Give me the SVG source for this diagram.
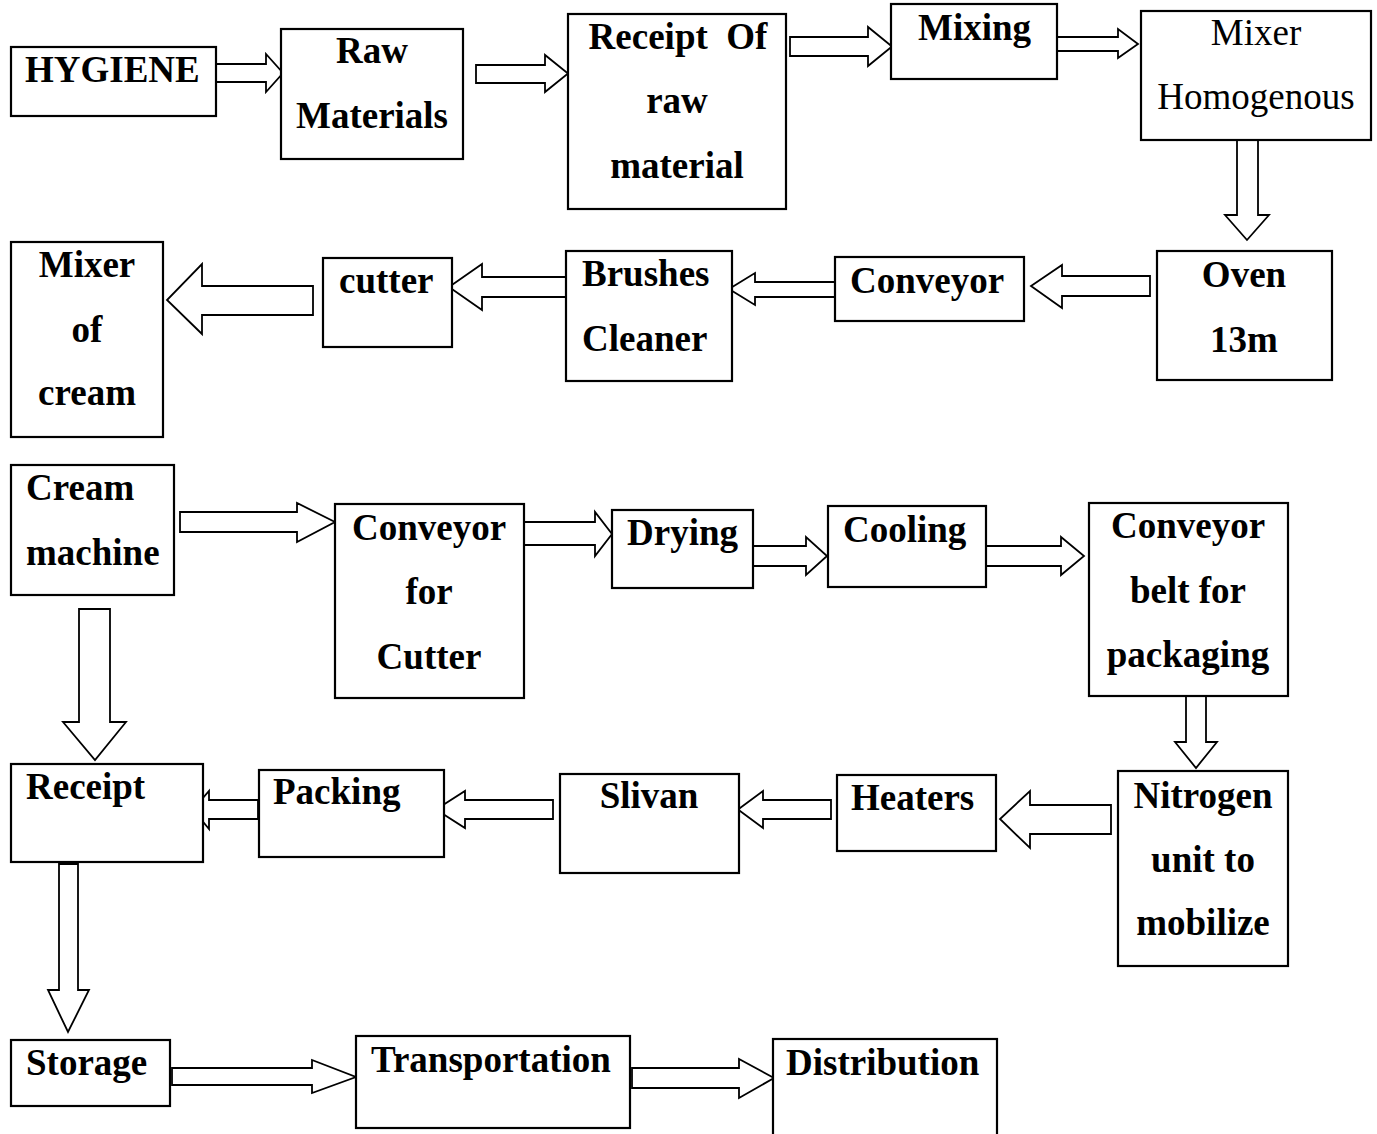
<svg xmlns="http://www.w3.org/2000/svg" width="1377" height="1134" viewBox="0 0 1377 1134">
<style>
.box{fill:#fff;stroke:#000;stroke-width:2.2}
.arr{fill:#fff;stroke:#000;stroke-width:1.8;stroke-linejoin:miter}
text{font-family:"Liberation Serif","Times New Roman",serif;font-size:37px;font-weight:bold;fill:#000;white-space:pre}
.c{text-anchor:middle}
.reg{font-weight:normal}
</style>
<rect width="1377" height="1134" fill="#fff"/>
<g id="connectors">
<path class="arr" d="M213,64 L266,64 L266,54 L283,73 L266,92 L266,82 L213,82 Z"/>
<path class="arr" d="M476,65 L545,65 L545,55 L568,73.5 L545,92 L545,83 L476,83 Z"/>
<path class="arr" d="M790,37 L868,37 L868,27 L892,46.5 L868,66 L868,56 L790,56 Z"/>
<path class="arr" d="M1057,37 L1118,37 L1118,29 L1138,44 L1118,58 L1118,51 L1057,51 Z"/>
<path class="arr" d="M1237,140 L1237,215 L1225,215 L1247,240 L1269,215 L1258,215 L1258,140 Z"/>
<path class="arr" d="M1150,276 L1062,276 L1062,265 L1031,286 L1062,308 L1062,296 L1150,296 Z"/>
<path class="arr" d="M835,282 L755,282 L755,273 L729,289 L755,305 L755,297 L835,297 Z"/>
<path class="arr" d="M567,277 L482,277 L482,264 L449,287 L482,310 L482,297 L567,297 Z"/>
<path class="arr" d="M313,286 L202,286 L202,264 L167,300 L202,334 L202,315 L313,315 Z"/>
<path class="arr" d="M180,512 L297,512 L297,503 L335,522 L297,542 L297,532 L180,532 Z"/>
<path class="arr" d="M521,522 L595,522 L595,512 L612,534 L595,556 L595,545 L521,545 Z"/>
<path class="arr" d="M747,546 L806,546 L806,537 L827,556 L806,575 L806,566 L747,566 Z"/>
<path class="arr" d="M986,546 L1061,546 L1061,537 L1084,556 L1061,575 L1061,566 L986,566 Z"/>
<path class="arr" d="M1186,696 L1186,742 L1175,742 L1196,768 L1217,742 L1206,742 L1206,696 Z"/>
<path class="arr" d="M1111,805 L1030,805 L1030,791 L1000,819 L1030,848 L1030,834 L1111,834 Z"/>
<path class="arr" d="M831,800 L763,800 L763,791 L738,809.5 L763,828 L763,819 L831,819 Z"/>
<path class="arr" d="M553,800 L465,800 L465,791 L436,809.5 L465,828 L465,819 L553,819 Z"/>
<path class="arr" d="M258,800 L209,800 L209,791 L193,809.5 L209,829 L209,819 L258,819 Z"/>
<path class="arr" d="M79,609 L79,722 L63,722 L95,760 L126,722 L110,722 L110,609 Z"/>
<path class="arr" d="M59,864 L59,990 L48,990 L68,1032 L89,990 L78,990 L78,864 Z"/>
<path class="arr" d="M172,1068 L312,1068 L312,1060 L356,1077 L312,1093 L312,1085 L172,1085 Z"/>
<path class="arr" d="M632,1068 L739,1068 L739,1059 L774,1078 L739,1098 L739,1088 L632,1088 Z"/>
</g>
<g id="n-hygiene"><rect class="box" x="11" y="47" width="205" height="69"/><text x="25" y="82">HYGIENE</text></g>
<g id="n-raw"><rect class="box" x="281" y="29" width="182" height="130"/><text class="c" x="372" y="63">Raw</text><text class="c" x="372" y="128">Materials</text></g>
<g id="n-receipt-raw"><rect class="box" x="568" y="14" width="218" height="195"/><text class="c" x="678" y="49">Receipt  Of</text><text class="c" x="677" y="113">raw</text><text class="c" x="677" y="178">material</text></g>
<g id="n-mixing"><rect class="box" x="891" y="4" width="166" height="75"/><text x="918" y="40">Mixing</text></g>
<g id="n-mixer-homog"><rect class="box" x="1141" y="11" width="230" height="129"/><text class="c reg" x="1256" y="45">Mixer</text><text class="c reg" x="1256" y="109">Homogenous</text></g>
<g id="n-oven"><rect class="box" x="1157" y="251" width="175" height="129"/><text class="c" x="1244" y="287">Oven</text><text class="c" x="1244" y="352">13m</text></g>
<g id="n-conveyor1"><rect class="box" x="835" y="257" width="189" height="64"/><text x="850" y="293">Conveyor</text></g>
<g id="n-brushes"><rect class="box" x="566" y="251" width="166" height="130"/><text x="582" y="286">Brushes</text><text x="582" y="351">Cleaner</text></g>
<g id="n-cutter"><rect class="box" x="323" y="258" width="129" height="89"/><text x="339" y="293">cutter</text></g>
<g id="n-mixer-cream"><rect class="box" x="11" y="242" width="152" height="195"/><text class="c" x="87" y="277">Mixer</text><text class="c" x="87" y="342">of</text><text class="c" x="87" y="405">cream</text></g>
<g id="n-cream-machine"><rect class="box" x="11" y="465" width="163" height="130"/><text x="26" y="500">Cream</text><text x="26" y="565">machine</text></g>
<g id="n-conveyor-cutter"><rect class="box" x="335" y="504" width="189" height="194"/><text class="c" x="429" y="540">Conveyor</text><text class="c" x="429" y="604">for</text><text class="c" x="429" y="669">Cutter</text></g>
<g id="n-drying"><rect class="box" x="612" y="510" width="141" height="78"/><text x="627" y="545">Drying</text></g>
<g id="n-cooling"><rect class="box" x="828" y="506" width="158" height="81"/><text x="843" y="542">Cooling</text></g>
<g id="n-conveyor-belt"><rect class="box" x="1089" y="503" width="199" height="193"/><text class="c" x="1188" y="538">Conveyor</text><text class="c" x="1188" y="603">belt for</text><text class="c" x="1188" y="667">packaging</text></g>
<g id="n-nitrogen"><rect class="box" x="1118" y="771" width="170" height="195"/><text class="c" x="1203" y="808">Nitrogen</text><text class="c" x="1203" y="872">unit to</text><text class="c" x="1203" y="935">mobilize</text></g>
<g id="n-heaters"><rect class="box" x="837" y="775" width="159" height="76"/><text x="851" y="810">Heaters</text></g>
<g id="n-slivan"><rect class="box" x="560" y="774" width="179" height="99"/><text class="c" x="649" y="808">Slivan</text></g>
<g id="n-packing"><rect class="box" x="259" y="770" width="185" height="87"/><text x="273" y="804">Packing</text></g>
<g id="n-receipt"><rect class="box" x="11" y="764" width="192" height="98"/><text x="26" y="799">Receipt</text></g>
<g id="n-storage"><rect class="box" x="11" y="1040" width="159" height="66"/><text x="26" y="1075">Storage</text></g>
<g id="n-transport"><rect class="box" x="356" y="1036" width="274" height="92"/><text x="371" y="1072">Transportation</text></g>
<g id="n-distribution"><rect class="box" x="773" y="1039" width="224" height="110"/><text x="786" y="1075">Distribution</text></g>
</svg>
